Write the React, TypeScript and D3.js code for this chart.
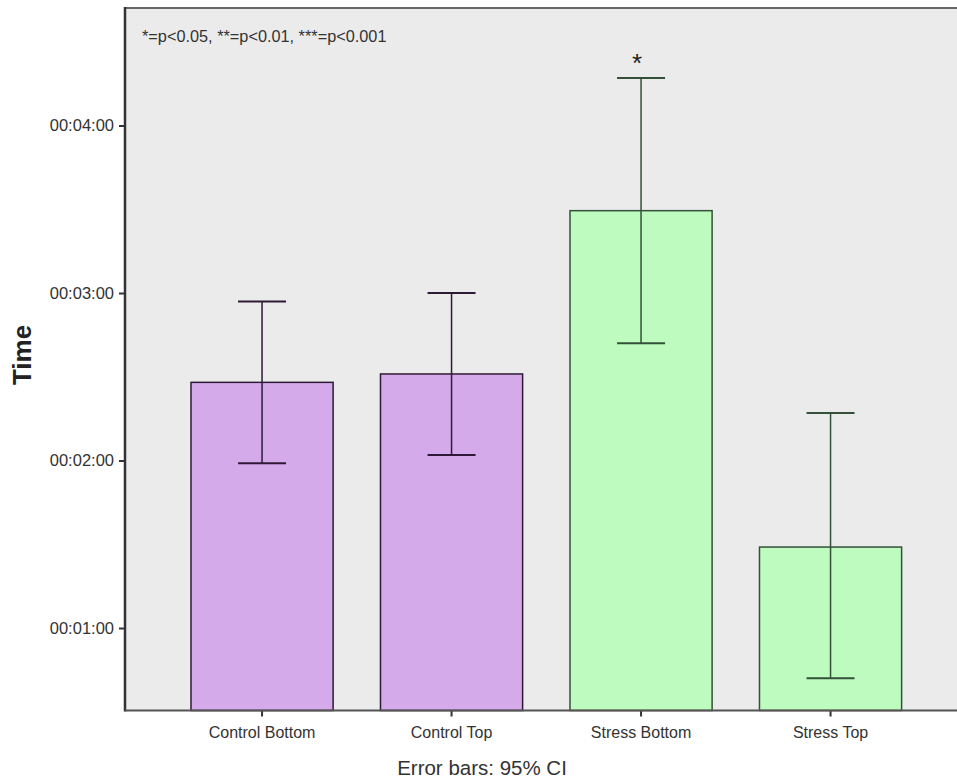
import React, { useEffect, useRef } from "react";
import * as d3 from "d3";

// values in seconds
const categories = ["Control Bottom", "Control Top", "Stress Bottom", "Stress Top"];
const means = [148, 151, 209.5, 89];
const ciLow = [119, 122, 162, 42];
const ciHigh = [177, 180, 257, 137];
const groups = ["control", "control", "stress", "stress"];
const significance = ["", "", "*", ""];
const yTicks = [60, 120, 180, 240];

const fmtTime = (s: number) => {
  const m = Math.floor(s / 60);
  const sec = s % 60;
  return `00:${String(m).padStart(2, "0")}:${String(sec).padStart(2, "0")}`;
};

const App = () => {
  const svgRef = useRef<SVGSVGElement | null>(null);

  useEffect(() => {
    const width = 957;
    const height = 781;
    const left = 125;
    const top = 8;
    const bottom = 710.5;

    const svg = d3.select(svgRef.current)
      .attr("width", width)
      .attr("height", height)
      .style("background-color", "white");

    svg.selectAll("*").remove();

    const x = d3.scaleBand<string>()
      .domain(categories)
      .range([167.3, 167.3 + 758])
      .paddingInner(0.25)
      .paddingOuter(0.125);

    const y = d3.scaleLinear().domain([30.45, 282.1]).range([bottom, top]);

    const fill = { control: "#d5aaeb", stress: "#bdfcbe" };
    const edge = { control: "#2e1a36", stress: "#34503a" };

    svg.append("rect")
      .attr("x", left)
      .attr("y", top)
      .attr("width", width - left)
      .attr("height", bottom - top)
      .attr("fill", "#ebebeb");

    const data = categories.map((c, i) => ({
      c, mean: means[i], lo: ciLow[i], hi: ciHigh[i], g: groups[i] as "control" | "stress", sig: significance[i],
    }));

    svg.append("g")
      .selectAll("rect")
      .data(data)
      .join("rect")
      .attr("x", (d) => x(d.c)!)
      .attr("y", (d) => y(d.mean))
      .attr("width", x.bandwidth())
      .attr("height", (d) => bottom - y(d.mean))
      .attr("fill", (d) => fill[d.g])
      .attr("stroke", (d) => edge[d.g])
      .attr("stroke-width", 1.5);

    const err = svg.append("g")
      .selectAll("g")
      .data(data)
      .join("g")
      .attr("stroke", (d) => edge[d.g])
      .attr("stroke-width", 1.5);

    const cx = (d: { c: string }) => x(d.c)! + x.bandwidth() / 2;
    const capW = 24;

    err.append("line")
      .attr("x1", cx).attr("x2", cx)
      .attr("y1", (d) => y(d.hi)).attr("y2", (d) => y(d.lo));
    err.append("line")
      .attr("x1", (d) => cx(d) - capW).attr("x2", (d) => cx(d) + capW)
      .attr("y1", (d) => y(d.hi)).attr("y2", (d) => y(d.hi))
      .attr("stroke-width", 2);
    err.append("line")
      .attr("x1", (d) => cx(d) - capW).attr("x2", (d) => cx(d) + capW)
      .attr("y1", (d) => y(d.lo)).attr("y2", (d) => y(d.lo))
      .attr("stroke-width", 2);

    svg.append("g")
      .selectAll("text")
      .data(data.filter((d) => d.sig))
      .join("text")
      .attr("x", (d) => cx(d) - 4)
      .attr("y", (d) => y(d.hi) - 6)
      .attr("text-anchor", "middle")
      .attr("font-family", "Liberation Sans, Arial, sans-serif")
      .attr("font-size", 26)
      .attr("fill", "#222")
      .text((d) => d.sig);

    // frame lines
    svg.append("line")
      .attr("x1", left).attr("x2", width)
      .attr("y1", top).attr("y2", top)
      .attr("stroke", "#666").attr("stroke-width", 2);

    const yAxis = svg.append("g")
      .attr("transform", `translate(${left},0)`)
      .call(d3.axisLeft(y).tickValues(yTicks).tickFormat((d) => fmtTime(d as number)).tickSize(6).tickSizeOuter(0));
    yAxis.select(".domain").remove();
    yAxis.selectAll("line").attr("stroke", "#333").attr("stroke-width", 2);
    yAxis.selectAll("text")
      .attr("font-family", "Liberation Sans, Arial, sans-serif")
      .attr("font-size", 16.5)
      .attr("fill", "#333")
      .attr("x", -11);

    const xAxis = svg.append("g")
      .attr("transform", `translate(0,${bottom})`)
      .call(d3.axisBottom(x).tickSize(6).tickSizeOuter(0));
    xAxis.select(".domain").remove();
    xAxis.selectAll("line").attr("stroke", "#333").attr("stroke-width", 2);
    xAxis.selectAll("text")
      .attr("font-family", "Liberation Sans, Arial, sans-serif")
      .attr("font-size", 16)
      .attr("fill", "#333")
      .attr("y", 16);

    svg.append("line")
      .attr("x1", left).attr("x2", left)
      .attr("y1", top - 1).attr("y2", bottom + 1)
      .attr("stroke", "#333").attr("stroke-width", 2.5);
    svg.append("line")
      .attr("x1", left).attr("x2", width)
      .attr("y1", bottom).attr("y2", bottom)
      .attr("stroke", "#555").attr("stroke-width", 2);

    svg.append("text")
      .attr("x", 142)
      .attr("y", 42)
      .attr("font-family", "Liberation Sans, Arial, sans-serif")
      .attr("font-size", 16.3)
      .attr("fill", "#333")
      .text("*=p<0.05, **=p<0.01, ***=p<0.001");

    svg.append("text")
      .attr("transform", `translate(31,355) rotate(-90)`)
      .attr("text-anchor", "middle")
      .attr("font-family", "Liberation Sans, Arial, sans-serif")
      .attr("font-weight", "bold")
      .attr("font-size", 26)
      .attr("fill", "#222")
      .text("Time");

    svg.append("text")
      .attr("x", 482)
      .attr("y", 775)
      .attr("text-anchor", "middle")
      .attr("font-family", "Liberation Sans, Arial, sans-serif")
      .attr("font-size", 20.5)
      .attr("fill", "#333")
      .text("Error bars: 95% CI");
  }, []);

  return (
    <div>
      <svg ref={svgRef} style={{ position: "absolute", left: 0, top: 0 }} />
    </div>
  );
};

export default App;
